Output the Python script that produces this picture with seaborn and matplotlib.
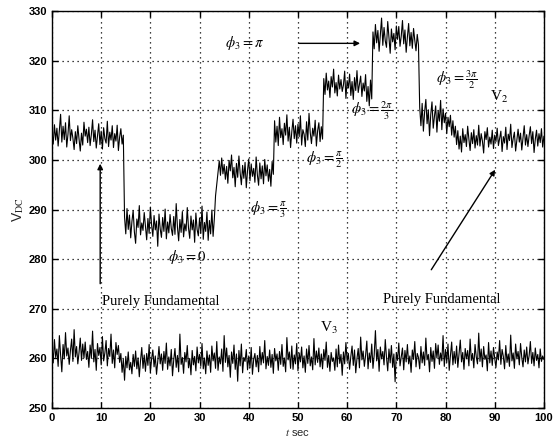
import numpy as np
import pandas as pd
import matplotlib
matplotlib.use("Agg")
import matplotlib.pyplot as plt
import seaborn as sns

# ---------------- data (0.25 s sampling) ----------------
t = np.arange(0, 100.25, 0.25)

# V2, one list per phase-angle interval
v2_fund_a = [305.5, 303.2, 307.1, 304.0, 306.4, 302.8, 305.9, 309.2, 303.6, 306.8,
             304.1, 307.5, 302.6, 305.2, 308.9, 303.9, 306.1, 304.4, 302.1, 305.7,
             303.3, 306.9, 304.2, 301.8, 305.4, 303.0, 307.6, 304.8, 306.2, 303.5,
             306.6, 302.9, 305.1, 308.1, 303.7, 306.0, 302.4, 304.9, 307.3, 303.1,
             305.8, 302.2, 306.5, 304.3, 303.4, 307.8, 302.7, 305.6, 304.0, 306.9,
             302.5, 305.3, 303.8, 307.0, 301.9, 304.6, 306.3, 303.2, 305.0]
v2_phi_0 = [288.5, 285.1, 290.2, 286.0, 288.9, 284.3, 287.6, 289.8, 285.5, 283.2,
            288.1, 286.4, 290.8, 284.9, 287.3, 285.8, 289.4, 286.7, 283.9, 288.2,
            285.2, 290.5, 286.9, 284.6, 288.8, 285.9, 287.7, 282.6, 289.1, 286.1,
            284.4, 288.4, 285.6, 290.1, 284.1, 287.5, 285.3, 289.0, 286.2, 284.8,
            288.6, 285.0, 291.2, 286.5, 283.7, 288.0, 285.4, 289.6, 284.5, 287.1,
            285.7, 290.4, 286.3, 284.2, 288.7, 285.9, 287.9, 283.4, 289.3, 286.0,
            284.7, 288.3, 285.2, 290.7, 284.0, 287.4, 285.6, 289.5, 283.8, 287.8,
            285.1, 289.9, 284.6, 288.1]
v2_phi_pi3 = [292.8, 295.1, 297.6, 299.8, 296.9, 300.4, 297.2, 299.1, 296.1, 298.7,
              295.3, 299.9, 297.8, 301.0, 296.4, 298.5, 294.6, 299.3, 296.5, 300.8,
              297.4, 295.0, 298.9, 296.3, 299.5, 294.4, 297.9, 300.2, 295.8, 299.2,
              296.7, 298.3, 295.5, 300.6, 297.0, 294.9, 299.4, 296.2, 298.8, 295.2,
              300.1, 296.8, 299.0, 295.7, 298.1, 294.7, 299.7, 297.1]
v2_phi_pi2 = [307.9, 303.6, 306.8, 302.9, 308.6, 304.5, 306.3, 303.1, 307.4, 305.0,
              309.1, 303.8, 306.6, 302.5, 305.7, 308.2, 304.3, 306.9, 303.4, 307.2,
              304.7, 308.9, 303.0, 306.1, 305.2, 302.7, 307.7, 304.0, 309.4, 305.5,
              303.3, 306.4, 304.8, 308.0, 302.8, 305.9, 307.5, 303.7, 306.7, 304.2]
v2_phi_2pi3 = [316.4, 313.2, 317.5, 314.1, 315.9, 312.6, 316.8, 314.7, 318.3, 313.5,
               315.6, 312.9, 317.1, 314.3, 316.2, 313.8, 315.1, 317.9, 312.4, 316.0,
               314.5, 317.3, 313.0, 315.8, 312.2, 316.6, 314.0, 318.0, 313.6, 315.3,
               316.9, 312.8, 315.5, 313.9, 317.2, 311.8, 314.8, 310.9, 316.1, 312.3]
v2_phi_pi = [325.8, 322.4, 327.3, 323.6, 326.1, 321.9, 325.2, 328.6, 323.1, 326.7,
             324.0, 322.7, 327.9, 324.6, 321.5, 326.4, 323.8, 325.5, 322.2, 327.0,
             324.3, 326.9, 322.9, 325.0, 328.1, 323.4, 326.2, 321.7, 324.8, 327.5,
             323.0, 325.7, 322.5, 326.5, 324.1, 322.0, 325.3, 323.2]
v2_phi_3pi2 = [310.6, 306.9, 311.4, 305.8, 309.7, 312.2, 307.3, 310.1, 304.9, 309.2,
               311.7, 306.4, 308.8, 310.9, 305.6, 309.9, 307.8, 312.0, 306.1, 310.3,
               307.5, 309.4, 305.3, 308.6, 306.7, 309.0, 305.0, 307.9, 304.6, 306.8]
v2_fund_b = [303.1, 305.9, 302.2, 304.8, 301.6, 306.3, 303.5, 305.1, 302.7, 306.8,
             304.2, 301.9, 305.5, 303.3, 306.1, 302.4, 304.9, 303.0, 307.0, 302.8,
             305.3, 303.8, 301.4, 305.7, 304.1, 306.5, 302.6, 304.6, 303.2, 306.0,
             302.3, 305.0, 303.7, 306.4, 302.9, 304.4, 305.8, 301.7, 304.7, 303.4,
             306.6, 302.1, 305.2, 303.9, 307.2, 302.5, 304.3, 305.6, 301.8, 304.0,
             306.2, 303.6, 305.4, 302.0, 304.5, 306.9, 303.0, 305.1, 302.7, 304.9,
             306.7, 303.3, 305.7, 301.5, 304.2, 306.0, 302.8, 305.3, 303.5, 306.3,
             302.6, 304.8]

# V3
v3_fund = [262.5, 259.1, 263.8, 260.2, 261.9, 258.4, 264.6, 260.7, 257.3, 262.8,
           259.9, 265.2, 260.5, 262.1, 258.8, 261.6, 263.9, 259.4, 265.8, 260.3,
           262.4, 258.9, 261.2, 264.1, 259.6, 262.9, 260.1, 263.3, 259.8, 261.4,
           258.2, 262.7, 260.0, 265.5, 259.3, 261.8, 257.6, 263.0, 260.6, 262.2,
           258.7, 264.4, 259.5, 261.1, 263.6, 258.5, 262.0, 260.4, 264.9, 259.0,
           261.7, 258.1, 263.2, 260.8, 262.6, 259.2, 261.0]
v3_rest_a = [257.2, 259.8, 255.6, 260.4, 258.1, 261.3, 257.7, 259.2, 256.9, 260.8,
             258.4, 261.5, 257.9, 260.1, 256.3, 259.6, 262.2, 258.0, 260.7, 257.4,
             261.0, 258.6, 262.8, 257.1, 259.9, 261.7, 258.3, 260.5, 256.8, 259.4,
             262.4, 258.9, 260.9, 257.6, 261.4, 259.0, 263.1, 257.8, 260.3, 258.5,
             261.8, 256.5, 259.7, 262.0, 258.2, 260.6, 257.3, 264.9, 258.8, 260.2,
             257.0, 261.2, 259.3, 262.6, 258.1, 260.0, 256.7, 261.6, 258.7, 260.4,
             257.5, 262.3, 259.1, 260.8, 258.4, 263.0, 257.9, 260.1, 256.9, 261.5,
             258.6, 260.7, 257.2, 262.5, 259.5, 261.1, 258.0, 263.4, 257.6, 260.3,
             258.9, 261.9, 257.4, 264.6, 259.2, 262.1, 258.3, 260.6, 256.2, 261.3,
             259.0, 262.7, 257.8, 260.9, 255.4, 261.6, 258.5, 262.9, 257.1, 260.2,
             259.4, 261.8, 257.7, 260.5, 258.1, 262.2, 256.8, 259.8, 261.0, 258.3,
             260.6, 257.3, 262.4, 258.7, 261.2, 259.1, 263.6, 257.9, 260.4, 258.6,
             261.7, 258.2, 260.8, 257.0, 262.0, 259.5, 260.9, 257.6, 261.4, 258.8,
             262.8, 258.4, 260.1, 257.3, 264.2, 259.7, 261.3, 258.0, 262.5, 257.8,
             260.7, 258.9, 263.0, 257.5, 261.1, 259.3, 262.3, 258.1, 260.5, 257.2,
             261.9, 259.0, 262.6, 258.5, 260.3, 257.7, 264.0, 258.7, 261.5, 259.2,
             262.1, 258.3, 260.9, 257.9, 261.8, 259.6, 263.3, 258.2, 260.6, 257.4,
             261.2, 259.4]
v3_rest_b = [260.1, 257.6, 261.9, 258.3, 262.7, 259.0, 260.8, 256.6, 261.3, 258.9,
             263.2, 259.4, 261.0, 257.8, 260.4, 262.5, 258.6, 261.7, 257.1, 260.0,
             262.0, 258.1, 264.3, 259.7, 261.5, 258.4, 260.6, 263.5, 257.9, 261.1,
             259.2, 262.9, 258.0, 260.7, 265.6, 259.5, 261.8, 257.4, 262.3, 259.9,
             261.4, 258.7, 263.8, 260.2, 257.5, 261.9, 259.1, 262.6, 258.2, 260.9,
             255.3, 261.2, 259.6, 263.1, 258.5, 260.3, 262.1, 257.7, 261.6, 259.3,
             262.8, 258.9, 260.5, 257.2, 261.7, 259.8, 263.4, 258.3, 261.0, 260.2,
             257.9, 262.4, 259.1, 261.3, 258.6, 264.1, 259.7, 260.8, 257.3, 262.2,
             259.4, 261.5, 258.0, 263.0, 260.1, 262.7, 258.8, 261.1, 259.5, 264.6,
             258.4, 261.8, 259.2, 262.9, 257.6, 260.6, 263.3, 258.7, 261.4, 259.0,
             262.5, 258.2, 260.9, 263.7, 259.3, 261.2, 257.8, 262.0, 259.9, 261.6,
             258.5, 263.9, 259.6, 261.0, 258.1, 262.8, 260.3, 258.9, 265.1, 259.4,
             261.9, 258.3, 262.4, 259.8, 260.7, 257.5, 263.2, 259.1, 261.5, 258.6,
             262.2, 260.0, 258.2, 261.3, 259.7, 263.6, 258.8, 261.8, 260.4, 257.9,
             262.6, 259.2, 260.9, 258.4, 264.7, 259.5, 261.1, 258.0, 262.9, 259.9,
             261.4, 258.7, 263.0, 260.2, 258.3, 261.7, 259.3, 262.3, 258.9, 260.6,
             263.4, 259.0, 261.2, 258.5, 262.1, 259.6, 260.8, 258.1, 261.9, 259.4,
             260.5, 259.8]

v2 = (v2_fund_a + v2_phi_0 + v2_phi_pi3 + v2_phi_pi2 + v2_phi_2pi3
      + v2_phi_pi + v2_phi_3pi2 + v2_fund_b)
v3 = v3_fund + v3_rest_a + v3_rest_b

x_ticks = [0, 10, 20, 30, 40, 50, 60, 70, 80, 90, 100]
y_ticks = [250, 260, 270, 280, 290, 300, 310, 320, 330]

df = pd.DataFrame({"t": np.concatenate([t, t]),
                   "V": np.array(v2 + v3),
                   "series": ["V2"] * len(t) + ["V3"] * len(t)})

# ---------------- plotting ----------------
sns.set_theme(style="white")
plt.rcParams["font.family"] = ["Liberation Sans", "DejaVu Sans"]
plt.rcParams["mathtext.fontset"] = "stix"

fig = plt.figure(figsize=(5.59, 4.44), dpi=100)
ax = fig.add_axes([0.093, 0.081, 0.880, 0.894])

sns.lineplot(data=df, x="t", y="V", units="series", estimator=None,
             color="black", linewidth=0.8, ax=ax, legend=False)

ax.set_xlim(0, 100)
ax.set_ylim(250, 330)
ax.set_xticks(x_ticks)
ax.set_yticks(y_ticks)
ax.grid(True, color="black", linestyle=(0, (1, 3)), linewidth=0.9)
for s in ax.spines.values():
    s.set_color("black")
    s.set_linewidth(1.0)
ax.tick_params(direction="in", length=4, width=1, colors="black",
               labelsize=8, top=True, right=True, bottom=True, left=True)
for lab in ax.get_xticklabels() + ax.get_yticklabels():
    lab.set_fontweight("bold")
ax.set_xlabel(r"$t$ sec", fontsize=8, labelpad=3)
ax.set_ylabel(r"V$_{\mathrm{DC}}$", fontsize=10, labelpad=2)

serif = ["Liberation Serif", "DejaVu Serif"]
def txt(x, y, s, size=10.5):
    ax.text(x, y, s, ha="center", va="center", fontsize=size, family=serif,
            color="black")

txt(39.2, 323.6, r"$\phi_3 = \pi$")
txt(65.0, 309.9, r"$\phi_3 = \frac{2\pi}{3}$")
txt(82.3, 316.1, r"$\phi_3 = \frac{3\pi}{2}$")
txt(90.8, 312.7, r"V$_2$", 11)
txt(55.3, 300.0, r"$\phi_3 = \frac{\pi}{2}$")
txt(43.9, 289.9, r"$\phi_3 = \frac{\pi}{3}$")
txt(27.4, 280.4, r"$\phi_3 = 0$")
txt(22.2, 271.4, "Purely Fundamental", 10.5)
txt(79.3, 271.8, "Purely Fundamental", 10.5)
txt(56.3, 266.1, r"V$_3$", 11)

ap = dict(arrowstyle="-|>", color="black", lw=1.0, mutation_scale=8)
ax.annotate("", xy=(63.2, 323.5), xytext=(49.6, 323.5), arrowprops=ap)
ax.annotate("", xy=(9.8, 299.8), xytext=(9.8, 274.5), arrowprops=ap)
ax.annotate("", xy=(90.4, 298.5), xytext=(76.8, 277.4), arrowprops=ap)

fig.savefig("out.png", dpi=100, facecolor="white")
